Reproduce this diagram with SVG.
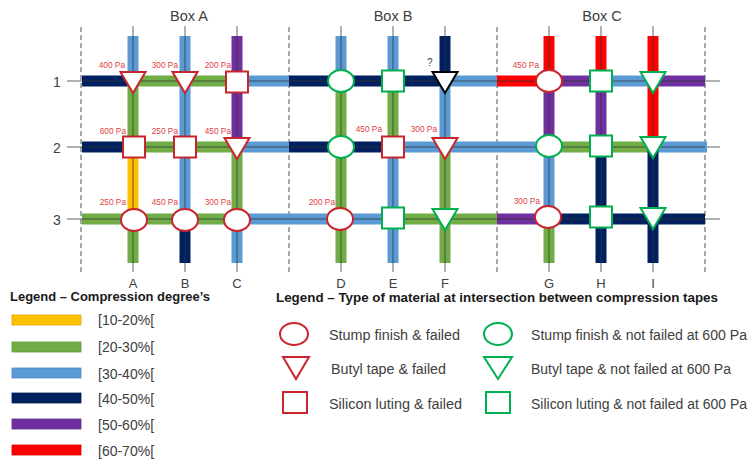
<svg xmlns="http://www.w3.org/2000/svg" xmlns:xlink="http://www.w3.org/1999/xlink" width="749" height="459" viewBox="0 0 749 459">
<style>
text{font-family:"Liberation Sans",Arial,sans-serif;fill:#404040}
.box{font-size:14.5px;text-anchor:middle}
.ax{font-size:14px;text-anchor:middle}
.pa{font-size:8.3px;fill:#E0403F;text-anchor:end}
.lt{font-size:14px}
.lh{font-size:12.5px;font-weight:bold;fill:#1a1a1a}
.t{fill:none;stroke-width:11}
.Y{stroke:#FFC000}.G{stroke:#70AD47}.L{stroke:#5B9BD5}.N{stroke:#002060}.P{stroke:#7030A0}.R{stroke:#FF0000}
.thin{stroke:#303030;stroke-width:1;opacity:0.75}
.dash{stroke:#8c8c8c;stroke-width:1.5;stroke-dasharray:5 3}
.f{fill:#fff;stroke:#C9252C;stroke-width:2}
.ok{fill:#fff;stroke:#00B050;stroke-width:2}
.q{fill:#fff;stroke:#000;stroke-width:2}
.sw{stroke-width:0.8}
</style>
<defs>
<ellipse id="el" cx="0" cy="0" rx="13" ry="11"/>
<path id="tri" d="M-12.5,-9 L12.5,-9 L0,12 Z"/>
<rect id="sq" x="-11" y="-10.5" width="22" height="21"/>
</defs>

<!-- dashed box separators -->
<g id="separators">
<line class="dash" x1="81" y1="27" x2="81" y2="272"/>
<line class="dash" x1="289" y1="27" x2="289" y2="272"/>
<line class="dash" x1="497" y1="27" x2="497" y2="272"/>
<line class="dash" x1="705" y1="27" x2="705" y2="272"/>
</g>

<g id="tapes">
<!-- thin guide lines outside bands -->
<g class="thin">
<line x1="67" y1="81" x2="720" y2="81"/>
<line x1="67" y1="147" x2="720" y2="147"/>
<line x1="67" y1="219" x2="720" y2="219"/>
<line x1="133" y1="26" x2="133" y2="272"/>
<line x1="185" y1="26" x2="185" y2="272"/>
<line x1="237" y1="26" x2="237" y2="272"/>
<line x1="341" y1="26" x2="341" y2="272"/>
<line x1="393" y1="26" x2="393" y2="272"/>
<line x1="445" y1="26" x2="445" y2="272"/>
<line x1="549" y1="26" x2="549" y2="272"/>
<line x1="601" y1="26" x2="601" y2="272"/>
<line x1="653" y1="26" x2="653" y2="272"/>
</g>
<!-- row 1 -->
<line class="t N" x1="82" y1="81" x2="133" y2="81"/>
<line class="t G" x1="133" y1="81" x2="237" y2="81"/>
<line class="t L" x1="237" y1="81" x2="289" y2="81"/>
<line class="t N" x1="289" y1="81" x2="445" y2="81"/>
<line class="t L" x1="445" y1="81" x2="497" y2="81"/>
<line class="t R" x1="497" y1="81" x2="549" y2="81"/>
<line class="t P" x1="549" y1="81" x2="601" y2="81"/>
<line class="t L" x1="601" y1="81" x2="653" y2="81"/>
<line class="t P" x1="653" y1="81" x2="705" y2="81"/>
<!-- row 2 -->
<line class="t N" x1="82" y1="147" x2="133" y2="147"/>
<line class="t G" x1="133" y1="147" x2="237" y2="147"/>
<line class="t L" x1="237" y1="147" x2="289" y2="147"/>
<line class="t N" x1="289" y1="147" x2="393" y2="147"/>
<line class="t L" x1="393" y1="147" x2="549" y2="147"/>
<line class="t G" x1="549" y1="147" x2="653" y2="147"/>
<line class="t L" x1="653" y1="147" x2="707" y2="147"/>
<!-- row 3 -->
<line class="t G" x1="82" y1="219" x2="237" y2="219"/>
<line class="t L" x1="237" y1="219" x2="393" y2="219"/>
<line class="t G" x1="393" y1="219" x2="497" y2="219"/>
<line class="t P" x1="497" y1="219" x2="549" y2="219"/>
<line class="t N" x1="549" y1="219" x2="705" y2="219"/>
<!-- column A -->
<line class="t L" x1="133" y1="36" x2="133" y2="81"/>
<line class="t G" x1="133" y1="81" x2="133" y2="147"/>
<line class="t Y" x1="133" y1="147" x2="133" y2="219"/>
<line class="t G" x1="133" y1="219" x2="133" y2="263"/>
<!-- column B -->
<line class="t L" x1="185" y1="36" x2="185" y2="219"/>
<line class="t N" x1="185" y1="219" x2="185" y2="263"/>
<!-- column C -->
<line class="t P" x1="237" y1="36" x2="237" y2="147"/>
<line class="t G" x1="237" y1="147" x2="237" y2="219"/>
<line class="t L" x1="237" y1="219" x2="237" y2="263"/>
<!-- column D -->
<line class="t L" x1="341" y1="36" x2="341" y2="81"/>
<line class="t G" x1="341" y1="81" x2="341" y2="263"/>
<!-- column E -->
<line class="t L" x1="393" y1="36" x2="393" y2="81"/>
<line class="t G" x1="393" y1="81" x2="393" y2="147"/>
<line class="t L" x1="393" y1="147" x2="393" y2="263"/>
<!-- column F -->
<line class="t N" x1="445" y1="36" x2="445" y2="81"/>
<line class="t L" x1="445" y1="81" x2="445" y2="147"/>
<line class="t G" x1="445" y1="147" x2="445" y2="263"/>
<!-- column G -->
<line class="t R" x1="549" y1="36" x2="549" y2="81"/>
<line class="t P" x1="549" y1="81" x2="549" y2="147"/>
<line class="t L" x1="549" y1="147" x2="549" y2="219"/>
<line class="t G" x1="549" y1="219" x2="549" y2="263"/>
<!-- column H -->
<line class="t R" x1="601" y1="36" x2="601" y2="81"/>
<line class="t P" x1="601" y1="81" x2="601" y2="147"/>
<line class="t N" x1="601" y1="147" x2="601" y2="263"/>
<!-- column I -->
<line class="t R" x1="653" y1="36" x2="653" y2="147"/>
<line class="t N" x1="653" y1="147" x2="653" y2="263"/>
<!-- centre lines over bands -->
<g class="thin" opacity="0.6">
<line x1="82" y1="81" x2="705" y2="81"/>
<line x1="82" y1="147" x2="705" y2="147"/>
<line x1="82" y1="219" x2="705" y2="219"/>
<line x1="133" y1="36" x2="133" y2="263"/>
<line x1="185" y1="36" x2="185" y2="263"/>
<line x1="237" y1="36" x2="237" y2="263"/>
<line x1="341" y1="36" x2="341" y2="263"/>
<line x1="393" y1="36" x2="393" y2="263"/>
<line x1="445" y1="36" x2="445" y2="263"/>
<line x1="549" y1="36" x2="549" y2="263"/>
<line x1="601" y1="36" x2="601" y2="263"/>
<line x1="653" y1="36" x2="653" y2="263"/>
</g>
</g>

<!-- axis labels -->
<g id="labels">
<text class="box" x="189" y="21">Box A</text>
<text class="box" x="393" y="21">Box B</text>
<text class="box" x="602" y="21">Box C</text>
<text class="ax" x="57" y="87">1</text>
<text class="ax" x="57" y="153">2</text>
<text class="ax" x="57" y="225">3</text>
<text class="ax" x="133" y="288" style="font-size:13px">A</text>
<text class="ax" x="185" y="288" style="font-size:13px">B</text>
<text class="ax" x="237" y="288" style="font-size:13px">C</text>
<text class="ax" x="341" y="288" style="font-size:13px">D</text>
<text class="ax" x="393" y="288" style="font-size:13px">E</text>
<text class="ax" x="445" y="288" style="font-size:13px">F</text>
<text class="ax" x="549" y="288" style="font-size:13px">G</text>
<text class="ax" x="601" y="288" style="font-size:13px">H</text>
<text class="ax" x="653" y="288" style="font-size:13px">I</text>
</g>

<!-- intersections row 1 -->
<g id="A1"><use href="#tri" class="f" x="133" y="81"/><text class="pa" x="125" y="68">400 Pa</text></g>
<g id="B1"><use href="#tri" class="f" x="185" y="81"/><text class="pa" x="178" y="68">300 Pa</text></g>
<g id="C1"><use href="#sq" class="f" x="237" y="82"/><text class="pa" x="231" y="68">200 Pa</text></g>
<g id="D1"><use href="#el" class="ok" x="341" y="81"/></g>
<g id="E1"><use href="#sq" class="ok" x="393" y="81"/></g>
<g id="F1"><use href="#tri" class="q" x="445" y="81"/><text x="427" y="66" style="font-size:10px">?</text></g>
<g id="G1"><use href="#el" class="f" x="549" y="81"/><text class="pa" x="539" y="68">450 Pa</text></g>
<g id="H1"><use href="#sq" class="ok" x="601" y="81"/></g>
<g id="I1"><use href="#tri" class="ok" x="653" y="81"/></g>
<!-- row 2 -->
<g id="A2"><use href="#sq" class="f" x="134" y="147"/><text class="pa" x="126" y="134">600 Pa</text></g>
<g id="B2"><use href="#sq" class="f" x="185" y="147"/><text class="pa" x="178" y="134">250 Pa</text></g>
<g id="C2"><use href="#tri" class="f" x="237" y="147"/><text class="pa" x="231" y="134">450 Pa</text></g>
<g id="D2"><use href="#el" class="ok" x="341" y="147"/></g>
<g id="E2"><use href="#sq" class="f" x="393" y="147"/><text class="pa" x="382" y="132">450 Pa</text></g>
<g id="F2"><use href="#tri" class="f" x="445" y="147"/><text class="pa" x="437" y="132">300 Pa</text></g>
<g id="G2"><use href="#el" class="ok" x="549" y="146"/></g>
<g id="H2"><use href="#sq" class="ok" x="601" y="146"/></g>
<g id="I2"><use href="#tri" class="ok" x="653" y="146"/></g>
<!-- row 3 -->
<g id="A3"><use href="#el" class="f" x="134" y="220"/><text class="pa" x="126" y="205">250 Pa</text></g>
<g id="B3"><use href="#el" class="f" x="185" y="220"/><text class="pa" x="178" y="205">450 Pa</text></g>
<g id="C3"><use href="#el" class="f" x="237" y="220"/><text class="pa" x="231" y="205">300 Pa</text></g>
<g id="D3"><use href="#el" class="f" x="340" y="219"/><text class="pa" x="335" y="205">200 Pa</text></g>
<g id="E3"><use href="#sq" class="ok" x="393" y="218"/></g>
<g id="F3"><use href="#tri" class="ok" x="445" y="218"/></g>
<g id="G3"><use href="#el" class="f" x="548" y="217"/><text class="pa" x="540" y="204">300 Pa</text></g>
<g id="H3"><use href="#sq" class="ok" x="601" y="217"/></g>
<g id="I3"><use href="#tri" class="ok" x="653" y="217"/></g>

<!-- legend: compression degree -->
<g id="legend-compression">
<text class="lh" x="10" y="301" textLength="200" lengthAdjust="spacingAndGlyphs">Legend – Compression degree’s</text>
<rect x="12" y="315" width="69" height="10" fill="#FFC000" stroke="#E0A800" class="sw"/>
<text class="lt" x="98" y="325">[10-20%[</text>
<rect x="12" y="342" width="69" height="10" fill="#70AD47" stroke="#5E9A3A" class="sw"/>
<text class="lt" x="98" y="352">[20-30%[</text>
<rect x="12" y="368" width="69" height="10" fill="#5B9BD5" stroke="#4A88C0" class="sw"/>
<text class="lt" x="98" y="379">[30-40%[</text>
<rect x="12" y="393" width="69" height="10" fill="#002060" stroke="#001a50" class="sw"/>
<text class="lt" x="98" y="404">[40-50%[</text>
<rect x="12" y="419" width="69" height="10" fill="#7030A0" stroke="#602890" class="sw"/>
<text class="lt" x="98" y="430">[50-60%[</text>
<rect x="12" y="445" width="69" height="10" fill="#FF0000" stroke="#E00000" class="sw"/>
<text class="lt" x="98" y="456">[60-70%[</text>
</g>

<!-- legend: material type -->
<g id="legend-material">
<text class="lh" x="276" y="302" textLength="442" lengthAdjust="spacingAndGlyphs">Legend – Type of material at intersection between compression tapes</text>
<ellipse class="f" cx="294" cy="334" rx="14" ry="11"/>
<text class="lt" x="329" y="340" textLength="131" lengthAdjust="spacingAndGlyphs">Stump finish &amp; failed</text>
<path class="f" d="M283,357 L309,357 L296,379 Z"/>
<text class="lt" x="331" y="374" textLength="115" lengthAdjust="spacingAndGlyphs">Butyl tape &amp; failed</text>
<rect class="f" x="283" y="392" width="24" height="21"/>
<text class="lt" x="329" y="409" textLength="133" lengthAdjust="spacingAndGlyphs">Silicon luting &amp; failed</text>
<ellipse class="ok" cx="498" cy="334" rx="14" ry="11"/>
<text class="lt" x="531" y="340" textLength="216" lengthAdjust="spacingAndGlyphs">Stump finish &amp; not failed at 600 Pa</text>
<path class="ok" d="M484,357 L512,357 L498,379 Z"/>
<text class="lt" x="531" y="374" textLength="200" lengthAdjust="spacingAndGlyphs">Butyl tape &amp; not failed at 600 Pa</text>
<rect class="ok" x="486" y="392" width="24" height="21"/>
<text class="lt" x="531" y="409" textLength="216" lengthAdjust="spacingAndGlyphs">Silicon luting &amp; not failed at 600 Pa</text>
</g>
</svg>
